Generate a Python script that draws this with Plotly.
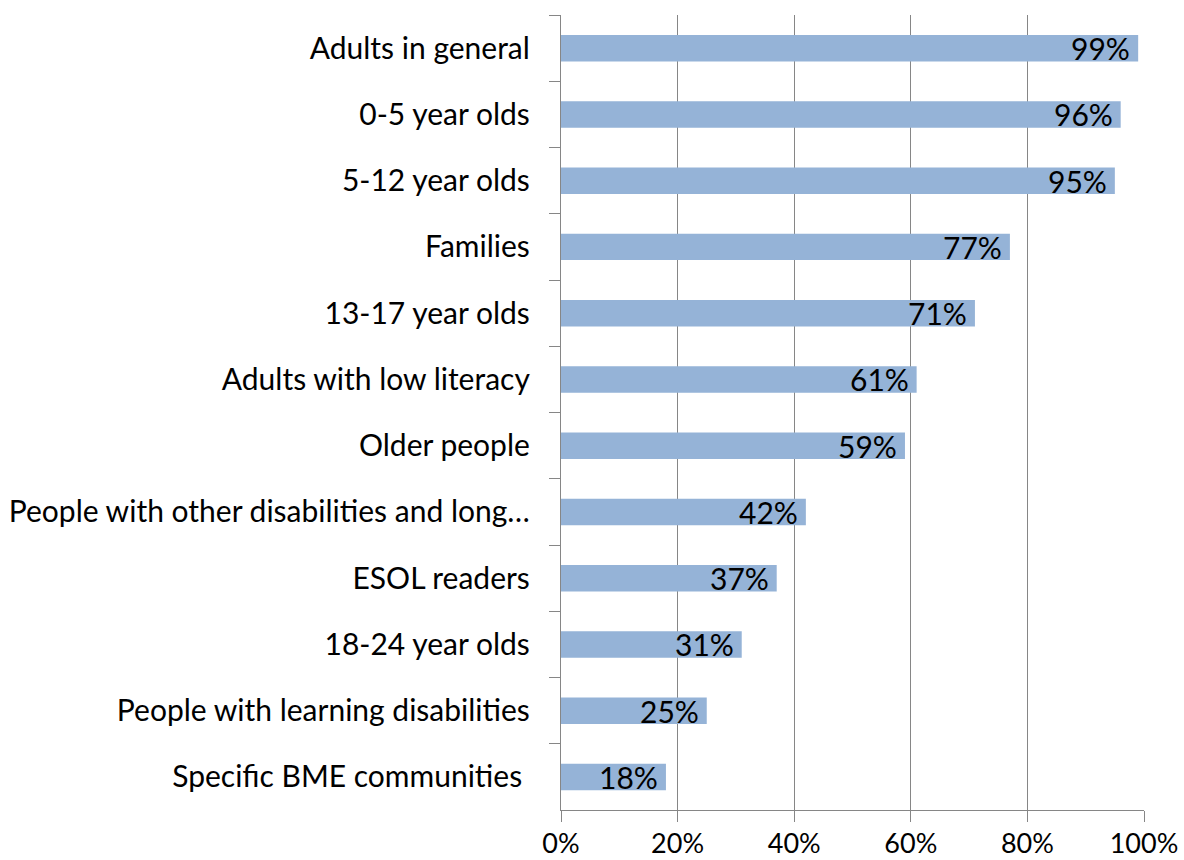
import plotly.graph_objects as go

categories = [
    "Adults in general",
    "0-5 year olds",
    "5-12 year olds",
    "Families",
    "13-17 year olds",
    "Adults with low literacy",
    "Older people",
    "People with other disabilities and long…",
    "ESOL readers",
    "18-24 year olds",
    "People with learning disabilities",
    "Specific BME communities ",
]
values = [99, 96, 95, 77, 71, 61, 59, 42, 37, 31, 25, 18]
x_ticks = [0, 20, 40, 60, 80, 100]
x_tick_labels = ["0%", "20%", "40%", "60%", "80%", "100%"]

FONT = "Lato, 'Open Sans', sans-serif"
GREY = "#868686"
SIZE = 30

fig = go.Figure(
    go.Bar(
        x=values,
        y=categories,
        orientation="h",
        marker=dict(color="#95B3D7", line=dict(width=0)),
        hoverinfo="x+y",
    )
)

# value labels sit inside the bar, right-aligned near its end
for cat, v in zip(categories, values):
    fig.add_annotation(
        x=v,
        y=cat,
        xref="x",
        yref="y",
        text=f"{v}%",
        showarrow=False,
        xanchor="right",
        yanchor="middle",
        xshift=-6,
        font=dict(family=FONT, size=SIZE, color="black"),
    )

fig.update_layout(
    width=1184,
    height=860,
    margin=dict(l=561, r=40, t=15, b=50),
    paper_bgcolor="white",
    plot_bgcolor="white",
    bargap=0.6,
    showlegend=False,
    font=dict(family=FONT, size=SIZE, color="black"),
)

fig.update_xaxes(
    range=[0, 100],
    tickvals=x_ticks,
    ticktext=x_tick_labels,
    showgrid=True,
    gridcolor=GREY,
    gridwidth=1.3,
    showline=True,
    linecolor=GREY,
    linewidth=1.3,
    ticks="outside",
    ticklen=11,
    tickcolor=GREY,
    tickwidth=1.3,
    tickfont=dict(family=FONT, size=27, color="black"),
    ticklabelstandoff=-2,
    zeroline=False,
    automargin=False,
)

fig.update_yaxes(
    autorange="reversed",
    showline=True,
    linecolor=GREY,
    linewidth=1.3,
    ticks="outside",
    tickson="boundaries",
    ticklen=11,
    tickcolor=GREY,
    tickwidth=1.3,
    tickfont=dict(family=FONT, size=SIZE, color="black"),
    ticklabelstandoff=24,
    showgrid=False,
    automargin=False,
)

fig.write_html("out.html")
